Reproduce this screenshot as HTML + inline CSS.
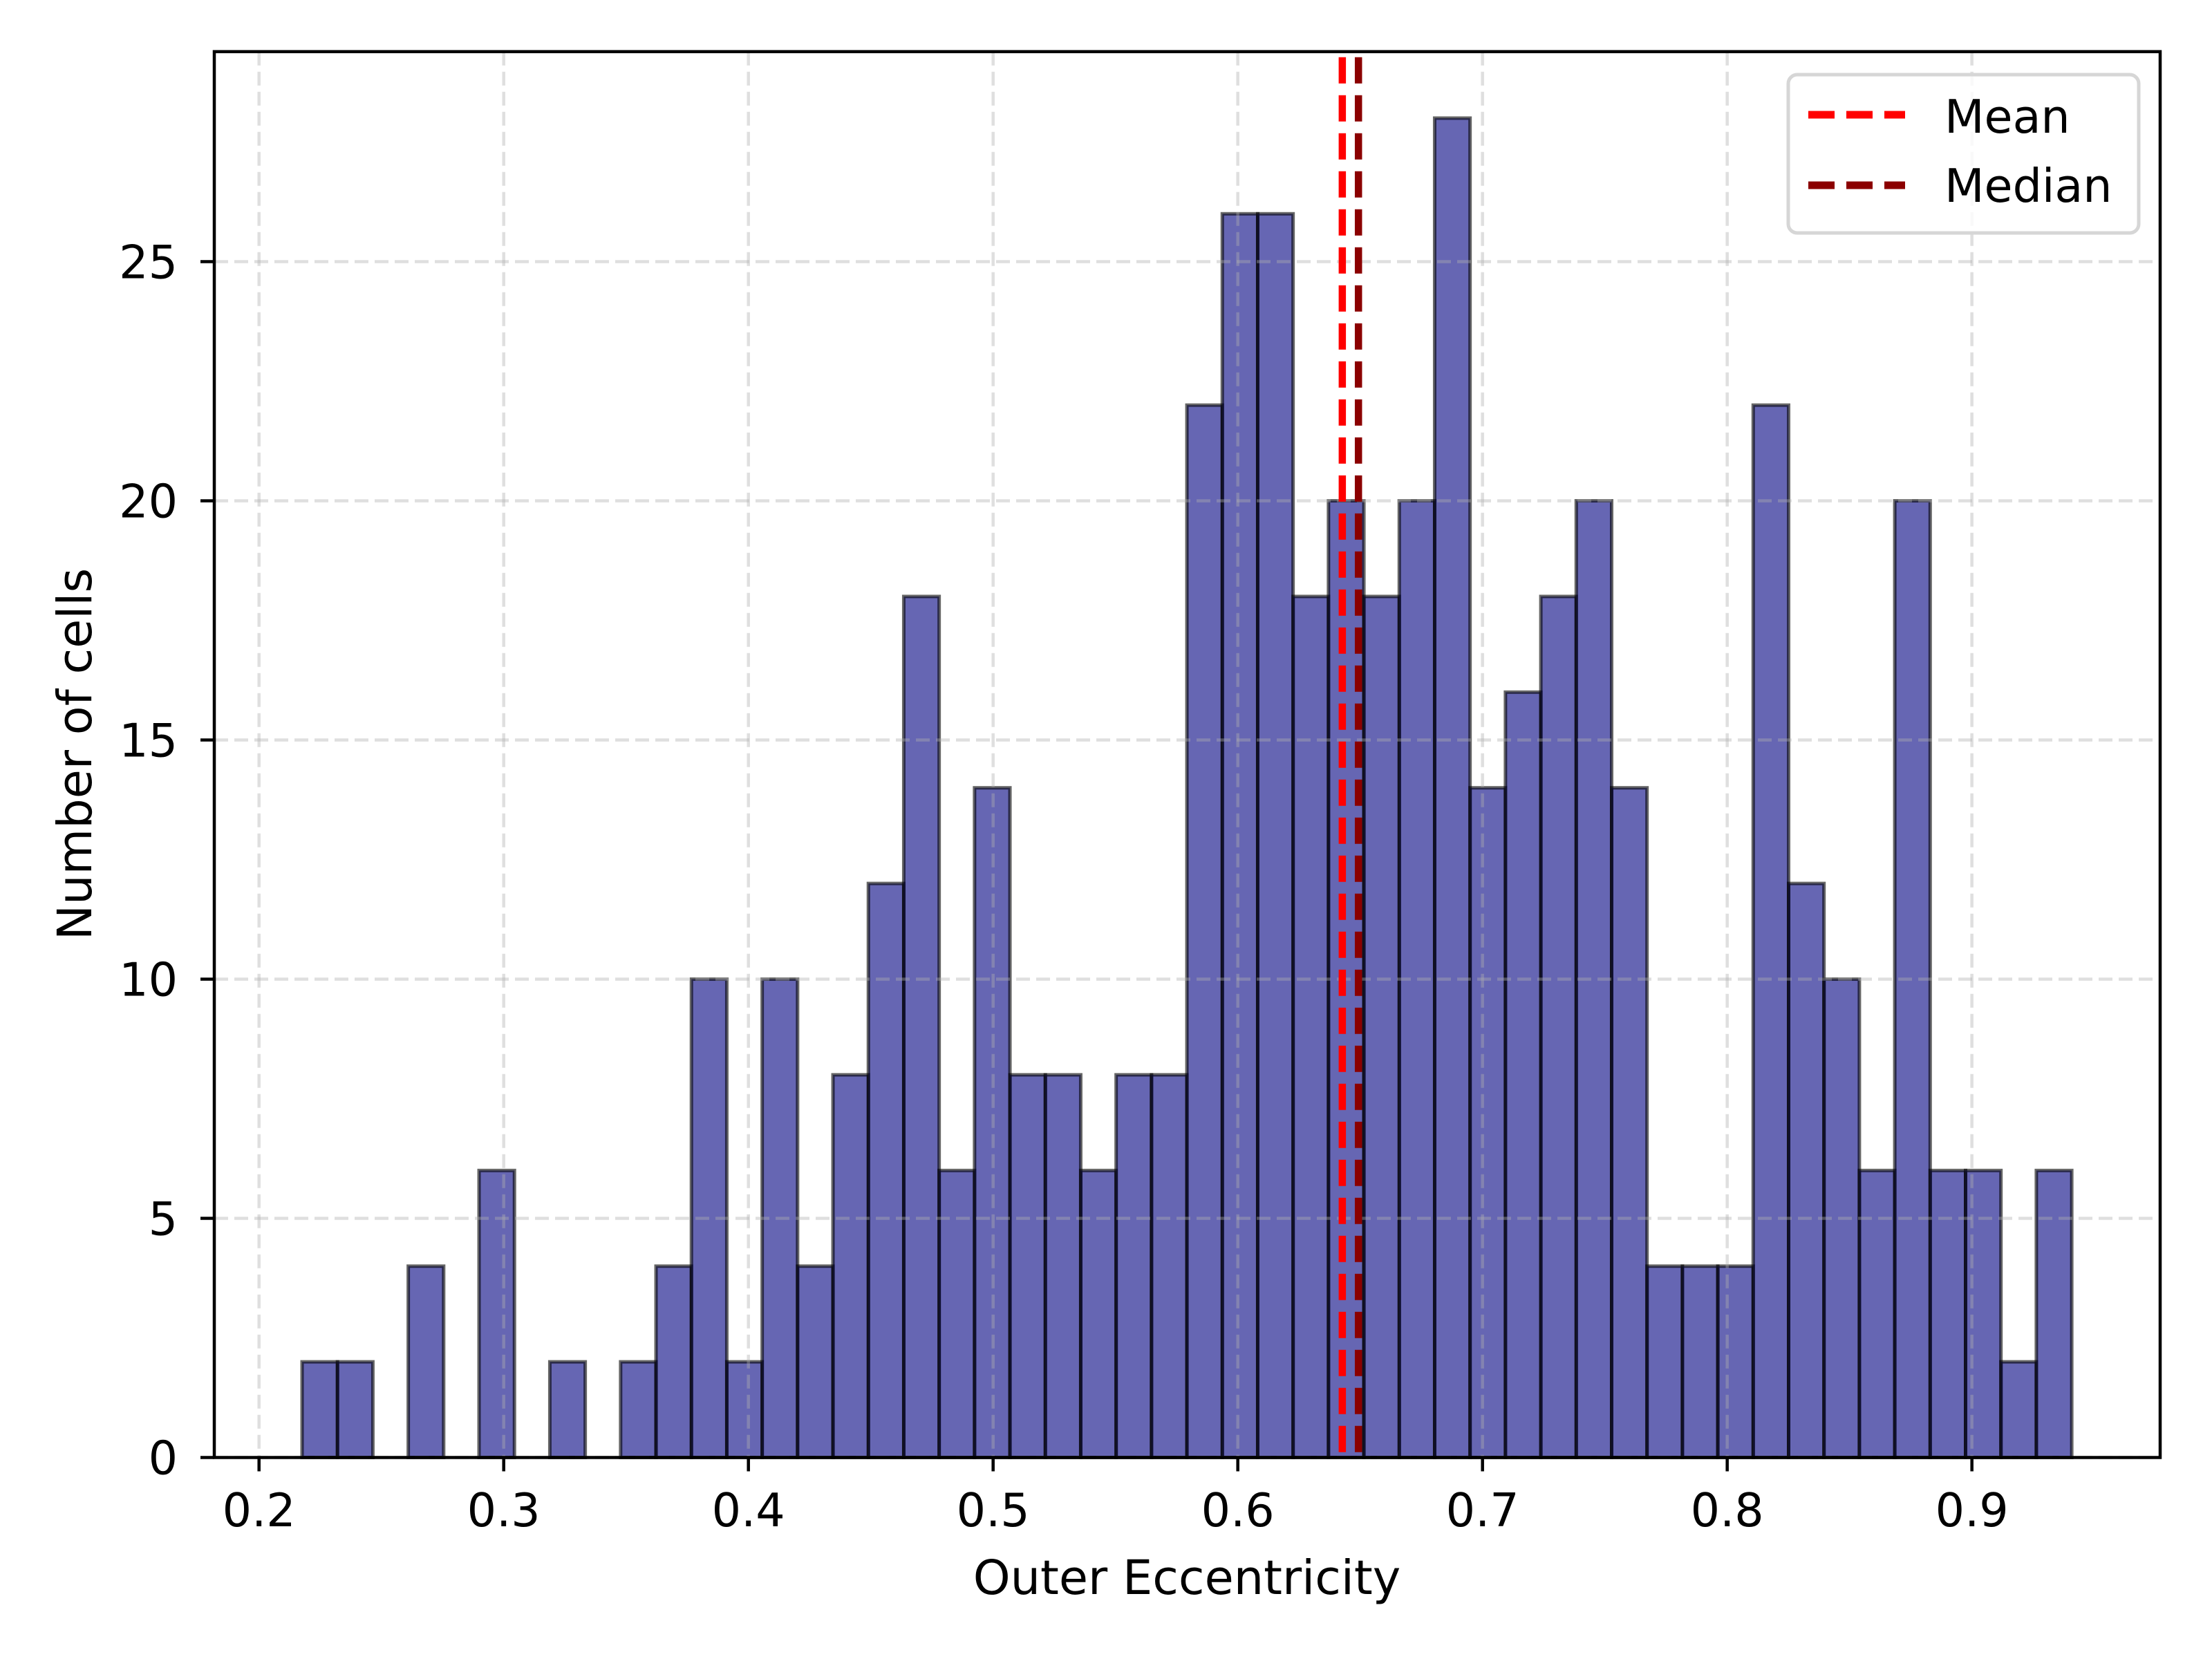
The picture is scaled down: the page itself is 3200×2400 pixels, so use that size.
<!DOCTYPE html>
<html><head><meta charset="utf-8"><style>
html,body{margin:0;padding:0;background:#fff;}
svg{display:block;font-family:"DejaVu Sans","Liberation Sans",sans-serif;}
</style></head><body>
<svg id="chart" width="3200" height="2400" viewBox="0 0 3200 2400" xmlns="http://www.w3.org/2000/svg">
<rect x="0" y="0" width="3200" height="2400" fill="#fff"/>
<g id="bars"></g>
<g id="grid"></g>
<g id="stats"></g>
<g id="axes"></g>
<text x="1717" y="2306" font-size="68.5" text-anchor="middle">Outer Eccentricity</text>
<text transform="translate(132,1091) rotate(-90)" font-size="68.5" text-anchor="middle">Number of cells</text>
<g>
<rect x="2587" y="108" width="507" height="229" rx="13" fill="#fff" fill-opacity="0.8" stroke="#d6d6d6" stroke-width="5"/>
<line x1="2616" y1="166" x2="2756" y2="166" stroke="#ff0000" stroke-width="11" stroke-dasharray="38,17"/>
<text x="2813" y="192" font-size="66.7">Mean</text>
<line x1="2616" y1="268" x2="2756" y2="268" stroke="#8b0000" stroke-width="11" stroke-dasharray="38,17"/>
<text x="2813" y="292" font-size="66.7">Median</text>
</g>
</svg>
<script>
const binStart = 0.2176;
const binWidth = 0.014464;
const counts = [2,2,0,4,0,6,0,2,0,2,4,10,2,10,4,8,12,18,6,14,8,8,6,8,8,22,26,26,18,20,18,20,28,14,16,18,20,14,4,4,4,22,12,10,6,20,6,6,2,6];
const xTicks = [0.2,0.3,0.4,0.5,0.6,0.7,0.8,0.9];
const xTickLabels = ["0.2","0.3","0.4","0.5","0.6","0.7","0.8","0.9"];
const yTicks = [0,5,10,15,20,25];
const yTickLabels = ["0","5","10","15","20","25"];
const meanValue = 0.6427;
const medianValue = 0.6493;

const NS = "http://www.w3.org/2000/svg";
const L=310, R=3125, T=74.7, B=2108.5;
const xMin=0.18172, xMax=0.97693, yMin=0, yMax=29.39;
function xs(v){return L+(v-xMin)/(xMax-xMin)*(R-L);}
function ys(v){return B-(v-yMin)/(yMax-yMin)*(B-T);}
function mk(tag,attrs,parent){const e=document.createElementNS(NS,tag);for(const k in attrs)e.setAttribute(k,attrs[k]);parent.appendChild(e);return e;}

const gBars=document.getElementById('bars');
counts.forEach((c,i)=>{
  if(c<=0) return;
  const x0=xs(binStart+i*binWidth), x1=xs(binStart+(i+1)*binWidth);
  const r=mk('rect',{x:x0,y:ys(c),width:x1-x0,height:ys(0)-ys(c),fill:'#000080','fill-opacity':0.6,stroke:'#000','stroke-opacity':0.6,'stroke-width':5},gBars);
  
  
});

const gGrid=document.getElementById('grid');
xTicks.forEach((v,i)=>{
  const l=mk('line',{x1:xs(v),x2:xs(v),y1:T,y2:B,stroke:'#b0b0b0','stroke-opacity':0.4,'stroke-width':4.5,'stroke-dasharray':'20,9'},gGrid);
  
  
});
yTicks.forEach((v,i)=>{
  const l=mk('line',{x1:L,x2:R,y1:ys(v),y2:ys(v),stroke:'#b0b0b0','stroke-opacity':0.4,'stroke-width':4.5,'stroke-dasharray':'20,9'},gGrid);
  
  
});

const gStats=document.getElementById('stats');
const ml=mk('line',{x1:xs(meanValue),x2:xs(meanValue),y1:T,y2:B,stroke:'#ff0000','stroke-width':10.5,'stroke-dasharray':'38,17','stroke-dashoffset':-8},gStats);


const dl=mk('line',{x1:xs(medianValue),x2:xs(medianValue),y1:T,y2:B,stroke:'#8b0000','stroke-width':10.5,'stroke-dasharray':'38,17','stroke-dashoffset':-8},gStats);



const gAx=document.getElementById('axes');
const fr=mk('rect',{x:L,y:T,width:R-L,height:B-T,fill:'none',stroke:'#000','stroke-width':4.5},gAx);


xTicks.forEach((v,i)=>{
  const t=mk('line',{x1:xs(v),x2:xs(v),y1:B,y2:B+20,stroke:'#000','stroke-width':4.5},gAx);
  
  
  const tx=mk('text',{x:xs(v),y:2208,'font-size':66.7,'text-anchor':'middle'},gAx);
  tx.textContent=xTickLabels[i];
  
  
});
yTicks.forEach((v,i)=>{
  const t=mk('line',{x1:L-20,x2:L,y1:ys(v),y2:ys(v),stroke:'#000','stroke-width':4.5},gAx);
  
  
  const tx=mk('text',{x:257,y:ys(v)+24,'font-size':66.7,'text-anchor':'end'},gAx);
  tx.textContent=yTickLabels[i];
  
  
});
</script>
</body></html>
